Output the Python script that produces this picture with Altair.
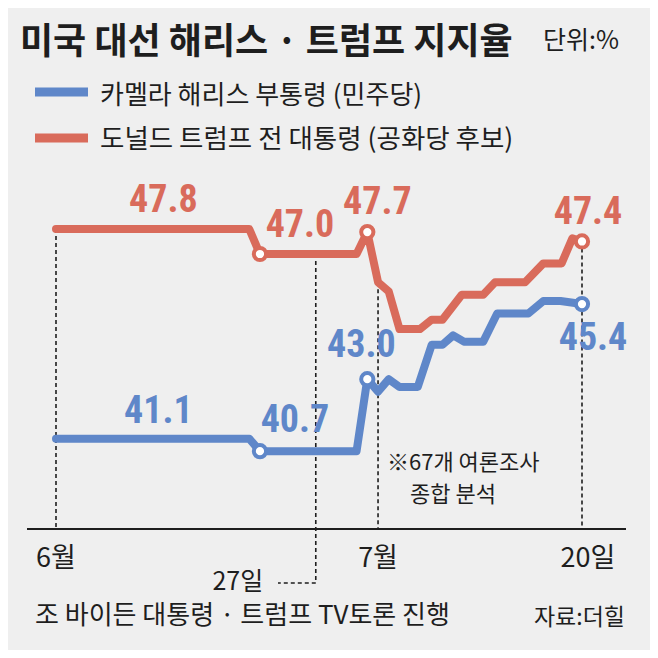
import altair as alt
import pandas as pd

BLUE = "#5f87c9"
RED = "#d96b5b"
INK = "#1e1e1e"
BG = "#efefef"
KR = "Noto Sans CJK KR"
NUM = "'Roboto Condensed', 'Liberation Sans Narrow', 'DejaVu Sans Condensed', Roboto, sans-serif"

# x = days since June 1 (0 = 6/1, 30 = 7/1, 49 = 7/20)
harris_days = [0, 18, 19, 28, 29, 30, 31, 32, 33.7, 35, 36, 37, 38, 39.8, 41.1, 44, 45.4, 47, 49]
harris_vals = [41.1, 41.1, 40.7, 40.7, 43.0, 42.6, 43.0, 42.75, 42.75, 44.1, 44.1, 44.4, 44.2, 44.2, 45.1, 45.1, 45.5, 45.5, 45.4]
trump_days = [0, 18, 19, 28, 29, 30, 31, 32, 33.9, 35, 36, 37.8, 39.8, 40.9, 43.7, 45.4, 47.1, 48.1, 49]
trump_vals = [47.8, 47.8, 47.0, 47.0, 47.7, 46.1, 45.8, 44.6, 44.6, 44.9, 44.9, 45.7, 45.7, 46.1, 46.1, 46.7, 46.7, 47.5, 47.4]

marker_days = [19, 29, 49]
harris_marks = [40.7, 43.0, 45.4]
trump_marks = [47.0, 47.7, 47.4]

label_series = ["trump", "trump", "trump", "trump", "harris", "harris", "harris", "harris"]
label_days = [10, 19, 29, 49, 10, 19, 29, 49]
label_vals = [47.8, 47.0, 47.7, 47.4, 41.1, 40.7, 43.0, 45.4]
label_dx = [0, 40, 10, 6, -5, 35, -6, 11]
label_dy = [-28, -28, -29, -28, -27, -30, -33, 35]

guide_days = [0, 30, 49]
guide_tops = [47.8, 46.1, 47.4]
debate_day = [24.2]
debate_top = [47.0]

tick_days = [0, 30, 49]
tick_labels = ["6월", "7월", "20일"]
tick_dx = [0, 0, 6]

xs = alt.Scale(domain=[0, 49], range=[48, 574], nice=False, zero=False)
ys = alt.Scale(domain=[40, 48], range=[465.1, 214.7], nice=False, zero=False)
cs = alt.Scale(domain=["harris", "trump"], range=[BLUE, RED])

lines_df = pd.DataFrame(
    {"day": harris_days + trump_days,
     "val": harris_vals + trump_vals,
     "series": ["harris"] * len(harris_days) + ["trump"] * len(trump_days)}
)
marks_df = pd.DataFrame(
    {"day": marker_days * 2,
     "val": harris_marks + trump_marks,
     "series": ["harris"] * 3 + ["trump"] * 3}
)
guides_df = pd.DataFrame({"day": guide_days, "top": guide_tops})
debate_df = pd.DataFrame({"day": debate_day, "top": debate_top})
one = pd.DataFrame({"k": [0]})

X = lambda f="day": alt.X(f"{f}:Q", scale=xs, axis=None)
Y = lambda f="val": alt.Y(f"{f}:Q", scale=ys, axis=None)

layers = []

# dashed guides
layers.append(
    alt.Chart(guides_df).mark_rule(strokeDash=[4, 3], strokeWidth=1.6, color=INK)
    .encode(x=X(), y=Y("top"), y2=alt.value(521))
)
layers.append(
    alt.Chart(debate_df).mark_rule(strokeDash=[4, 3], strokeWidth=1.6, color=INK)
    .encode(x=X(), y=Y("top"), y2=alt.value(575))
)
layers.append(
    alt.Chart(debate_df).mark_rule(strokeDash=[4, 3], strokeWidth=1.6, color=INK)
    .encode(x=X(), x2=alt.value(270), y=alt.value(575))
)
# baseline
layers.append(
    alt.Chart(one).mark_rule(color=INK, strokeWidth=2.2)
    .encode(x=alt.value(19), x2=alt.value(618), y=alt.value(521))
)

# lines
layers.append(
    alt.Chart(lines_df).mark_line(strokeWidth=8, strokeJoin="round", strokeCap="round")
    .encode(x=X(), y=Y(), color=alt.Color("series:N", scale=cs, legend=None), detail="series:N")
)
# markers
layers.append(
    alt.Chart(marks_df).mark_point(shape="circle", filled=True, fill="white", size=150,
                                   strokeWidth=4, opacity=1, fillOpacity=1)
    .encode(x=X(), y=Y(), stroke=alt.Stroke("series:N", scale=cs, legend=None))
)

# value labels
for s, d, v, dx, dy in zip(label_series, label_days, label_vals, label_dx, label_dy):
    df = pd.DataFrame({"day": [d], "val": [v], "t": [f"{v:.1f}"]})
    layers.append(
        alt.Chart(df).mark_text(font=NUM, fontSize=38, fontWeight="bold",
                                color=BLUE if s == "harris" else RED,
                                align="center", baseline="middle", dx=dx, dy=dy)
        .encode(x=X(), y=Y(), text="t:N")
    )

# month ticks
for d, t, dx in zip(tick_days, tick_labels, tick_dx):
    df = pd.DataFrame({"day": [d], "t": [t]})
    layers.append(
        alt.Chart(df).mark_text(font=KR, fontSize=27, color=INK, align="center",
                                baseline="middle", dx=dx)
        .encode(x=X(), y=alt.value(551), text="t:N")
    )
# debate date
layers.append(
    alt.Chart(pd.DataFrame({"day": debate_day, "t": ["27일"]}))
    .mark_text(font=KR, fontSize=25, color=INK, align="center", baseline="middle", dx=-78)
    .encode(x=X(), y=alt.value(574), text="t:N")
)


def txt(s, x, y, size, weight="normal", align="left", color=INK):
    return alt.Chart(pd.DataFrame({"t": [s]})).mark_text(
        font=KR, fontSize=size, fontWeight=weight, align=align, baseline="middle", color=color
    ).encode(x=alt.value(x), y=alt.value(y), text="t:N")


def swatch(color, y):
    return alt.Chart(one).mark_rule(color=color, strokeWidth=9).encode(
        x=alt.value(27), x2=alt.value(80), y=alt.value(y)
    )


layers += [
    txt("미국 대선 해리스 · 트럼프 지지율", 12, 35, 36, "bold"),
    txt("단위:%", 535, 33, 25),
    swatch(BLUE, 84),
    swatch(RED, 130),
    txt("카멜라 해리스 부통령 (민주당)", 92, 88, 26),
    txt("도널드 트럼프 전 대통령 (공화당 후보)", 92, 132, 26.5),
    txt("※67개 여론조사", 379, 455, 22),
    txt("종합 분석", 402, 487, 22),
    txt("조 바이든 대통령 · 트럼프 TV토론 진행", 27, 608, 26),
    txt("자료:더힐", 617, 610, 23, align="right"),
]

chart = alt.layer(*layers).properties(
    width=642, height=642,
    autosize=alt.AutoSizeParams(type="none"),
    padding=0,
    background=BG,
).configure_view(stroke=None)

chart.save("out.html", embed_options={"renderer": "svg", "actions": False})
